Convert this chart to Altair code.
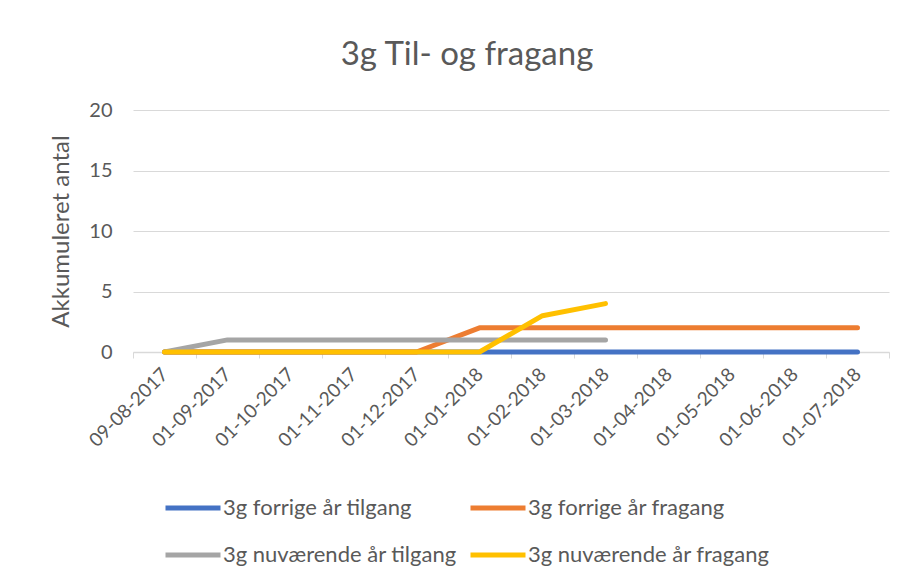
import altair as alt
import pandas as pd

dates = ["09-08-2017", "01-09-2017", "01-10-2017", "01-11-2017", "01-12-2017",
         "01-01-2018", "01-02-2018", "01-03-2018", "01-04-2018", "01-05-2018",
         "01-06-2018", "01-07-2018"]
series_names = ["3g forrige år tilgang", "3g forrige år fragang",
                "3g nuværende år tilgang", "3g nuværende år fragang"]
forrige_tilgang = [0, 0, 0, 0, 0, 0, 0, 0, 0, 0, 0, 0]
forrige_fragang = [0, 0, 0, 0, 0, 2, 2, 2, 2, 2, 2, 2]
nu_tilgang = [0, 1, 1, 1, 1, 1, 1, 1, None, None, None, None]
nu_fragang = [0, 0, 0, 0, 0, 0, 3, 4, None, None, None, None]
colors = ["#4472C4", "#ED7D31", "#A5A5A5", "#FFC000"]

rows = []
for i, (name, vals) in enumerate(zip(series_names,
                                     [forrige_tilgang, forrige_fragang, nu_tilgang, nu_fragang])):
    for d, v in zip(dates, vals):
        if v is not None:
            rows.append({"dato": d, "serie": name, "værdi": v, "orden": i})
df = pd.DataFrame(rows)

FONT = "Lato"
TXT = "#595959"

chart = alt.Chart(df).mark_line(strokeWidth=5, strokeCap="round", strokeJoin="round").encode(
    x=alt.X("dato:N", sort=dates, title=None,
            scale=alt.Scale(paddingInner=0, paddingOuter=0),
            axis=alt.Axis(labelAngle=-45, labelAlign="right", labelBaseline="middle",
                          labelFontSize=19, labelColor=TXT, labelFont=FONT,
                          tickBand="extent", tickColor="#D9D9D9", tickSize=6,
                          domainColor="#D9D9D9", domainWidth=1.5, grid=False,
                          labelPadding=13)),
    y=alt.Y("værdi:Q", title="Akkumuleret antal",
            scale=alt.Scale(domain=[0, 20]),
            axis=alt.Axis(values=[0, 5, 10, 15, 20], domain=False, ticks=False,
                          gridColor="#D9D9D9", gridWidth=1.2,
                          labelFontSize=20, labelColor=TXT, labelFont=FONT, labelPadding=21,
                          titleFontSize=24, titleColor=TXT, titleFont=FONT,
                          titleFontWeight="normal", titlePadding=15)),
    color=alt.Color("serie:N", sort=series_names,
                    scale=alt.Scale(domain=series_names, range=colors),
                    legend=alt.Legend(title=None, orient="none", legendX=30, legendY=368,
                                      columns=2, direction="horizontal",
                                      symbolType="stroke", symbolSize=3025,
                                      symbolStrokeWidth=5, labelFontSize=22,
                                      labelColor=TXT, labelFont=FONT, labelLimit=400,
                                      labelOffset=0, rowPadding=6, columnPadding=3)),
    order=alt.Order("orden:Q"),
    detail="serie:N",
).properties(
    width=756, height=242,
    title=alt.TitleParams("3g Til- og fragang", fontSize=33, color=TXT, font=FONT,
                          fontWeight="normal", anchor="middle", dx=-44, offset=28),
    autosize=alt.AutoSizeParams(type="none"),
    padding={"left": 125, "top": 102, "right": 16, "bottom": 219},
    background="white",
).configure_view(stroke=None, strokeWidth=0)

chart.save("out.html", embed_options={"renderer": "svg", "actions": False})
